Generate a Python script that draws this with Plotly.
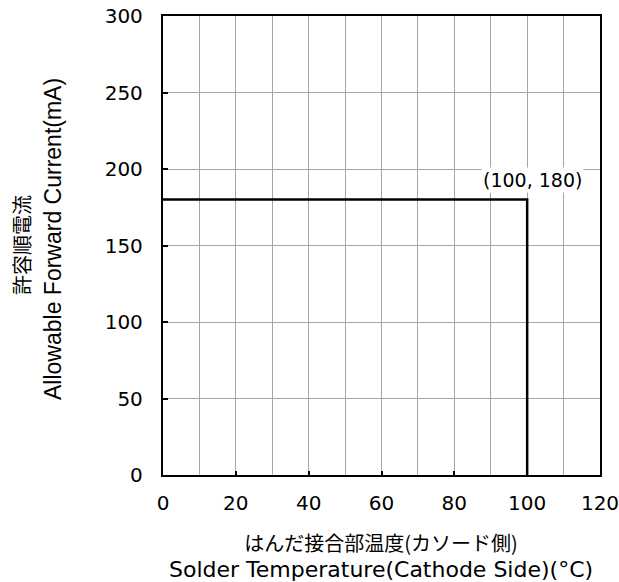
import plotly.graph_objects as go

# Data
temp_x = [0, 100, 100]
current_y = [180, 180, 0]
point_label = "(100, 180)"
x_ticks = [0, 20, 40, 60, 80, 100, 120]
y_ticks = [0, 50, 100, 150, 200, 250, 300]

W, H = 619, 582
L, R, T, B = 163, 19, 16, 107
pw, ph = W - L - R, H - T - B

def px_x(p):
    return (p - L) / pw

def px_y(p):
    return (H - B - p) / ph

fig = go.Figure()
fig.add_trace(go.Scatter(x=temp_x, y=current_y, mode="lines",
                         line=dict(color="black", width=2.5), hoverinfo="skip",
                         showlegend=False))

tickfont = dict(family="DejaVu Sans", size=20, color="black")
grid = "#a6a6a6"

fig.update_xaxes(range=[0, 120], tickvals=x_ticks, ticktext=[str(v) for v in x_ticks],
                 showline=True, linecolor="black", linewidth=2.3, mirror=True,
                 showgrid=True, gridcolor=grid, gridwidth=1,
                 minor=dict(dtick=10, tick0=0, showgrid=True, gridcolor=grid, gridwidth=1),
                 ticks="inside", ticklen=4, tickwidth=1.5, tickcolor="black",
                 tickfont=tickfont, zeroline=False, ticklabelstandoff=9,
                 ticklabeloverflow="allow", automargin=False)
fig.update_yaxes(range=[0, 300], tickvals=y_ticks, ticktext=[str(v) for v in y_ticks],
                 showline=True, linecolor="black", linewidth=2.3, mirror=True,
                 showgrid=True, gridcolor=grid, gridwidth=1,
                 ticks="inside", ticklen=5, tickwidth=1.5, tickcolor="black",
                 tickfont=tickfont, zeroline=False, ticklabelstandoff=14,
                 ticklabeloverflow="allow", automargin=False)

fig.add_annotation(x=101.6, y=192.5, xref="x", yref="y", text=point_label, showarrow=False,
                   font=dict(family="DejaVu Sans", size=19, color="black"),
                   bgcolor="white", borderpad=1)

# Axis titles
xtitle = ("<span style='font-family:\"Noto Sans CJK JP\";font-size:20px'>はんだ接合部温度(カソード側)</span>"
          "<br><span style='font-family:\"DejaVu Sans\";font-size:22px'>Solder Temperature(Cathode Side)(°C)</span>")
fig.add_annotation(x=px_x(381), y=px_y(555), xref="paper", yref="paper",
                   text=xtitle, showarrow=False,
                   font=dict(family="DejaVu Sans", size=20, color="black"),
                   xanchor="center", yanchor="middle")
fig.add_annotation(x=px_x(21), y=px_y(245), xref="paper", yref="paper",
                   text="許容順電流", showarrow=False, textangle=-90,
                   font=dict(family="Noto Sans CJK JP", size=20, color="black"),
                   xanchor="center", yanchor="middle")
fig.add_annotation(x=px_x(53), y=px_y(239), xref="paper", yref="paper",
                   text="Allowable Forward Current(mA)", showarrow=False, textangle=-90,
                   font=dict(family="Liberation Sans", size=23, color="black"),
                   xanchor="center", yanchor="middle")

fig.update_layout(width=W, height=H, margin=dict(l=L, r=R, t=T, b=B, autoexpand=False),
                  paper_bgcolor="white", plot_bgcolor="white")

fig.write_html("out.html", config={"displayModeBar": False},
               post_script="document.body.style.margin='0px';document.body.style.overflow='hidden';")
